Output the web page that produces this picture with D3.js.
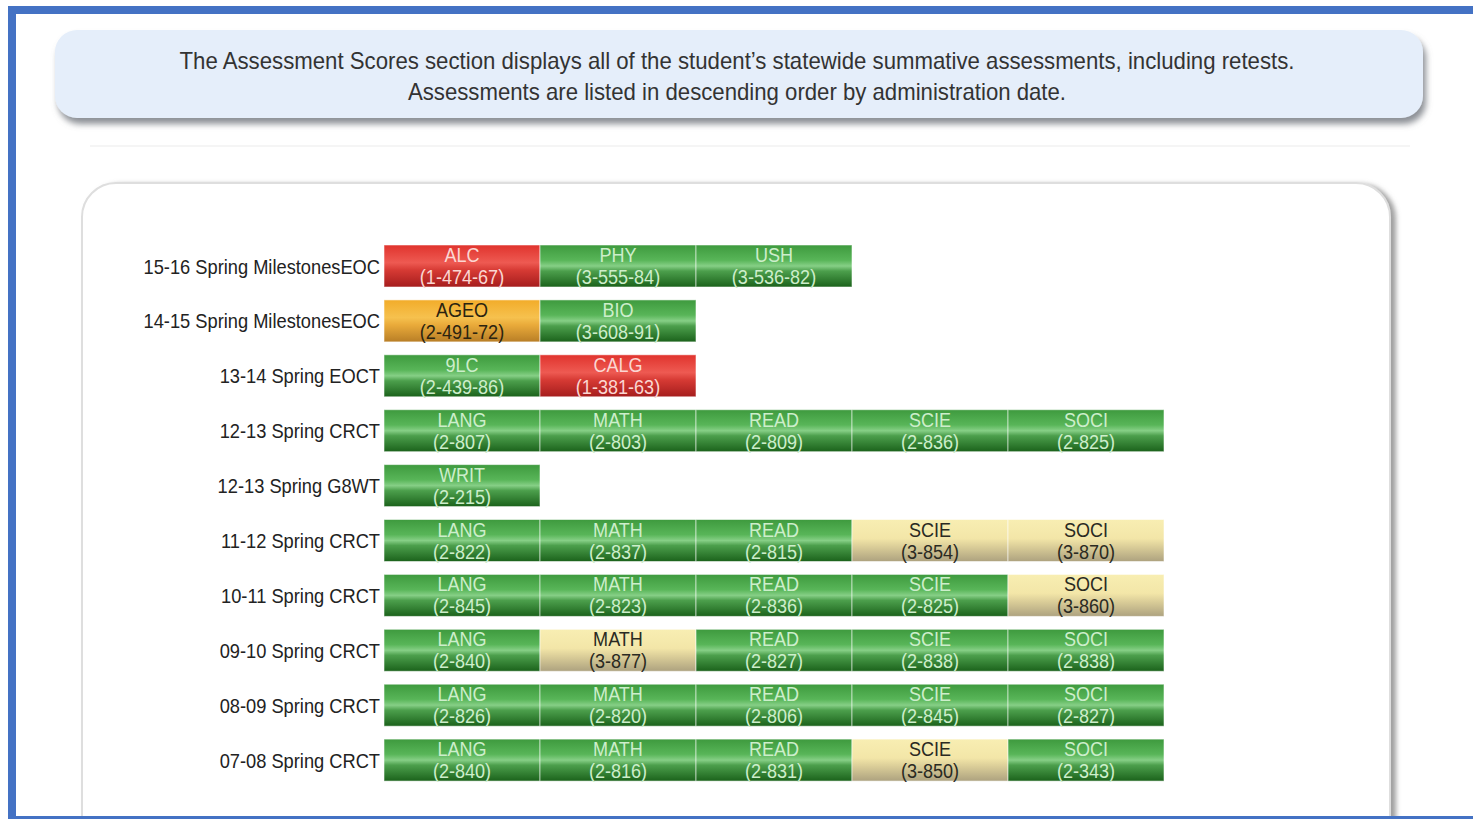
<!DOCTYPE html>
<html><head><meta charset="utf-8">
<script src="https://cdn.jsdelivr.net/npm/d3@7"></script>
<style>
html,body{margin:0;padding:0;background:#fff;overflow:hidden}
svg{display:block}
</style></head>
<body>
<svg id="c" width="1473" height="819"></svg>
<script>
// ---- data ----
const headerLines = [
  "The Assessment Scores section displays all of the student\u2019s statewide summative assessments, including retests.",
  "Assessments are listed in descending order by administration date."
];
const administrations = [
  "15-16 Spring MilestonesEOC",
  "14-15 Spring MilestonesEOC",
  "13-14 Spring EOCT",
  "12-13 Spring CRCT",
  "12-13 Spring G8WT",
  "11-12 Spring CRCT",
  "10-11 Spring CRCT",
  "09-10 Spring CRCT",
  "08-09 Spring CRCT",
  "07-08 Spring CRCT"
];
const subjects = [
  ["ALC","PHY","USH"],
  ["AGEO","BIO"],
  ["9LC","CALG"],
  ["LANG","MATH","READ","SCIE","SOCI"],
  ["WRIT"],
  ["LANG","MATH","READ","SCIE","SOCI"],
  ["LANG","MATH","READ","SCIE","SOCI"],
  ["LANG","MATH","READ","SCIE","SOCI"],
  ["LANG","MATH","READ","SCIE","SOCI"],
  ["LANG","MATH","READ","SCIE","SOCI"]
];
const scores = [
  ["1-474-67","3-555-84","3-536-82"],
  ["2-491-72","3-608-91"],
  ["2-439-86","1-381-63"],
  ["2-807","2-803","2-809","2-836","2-825"],
  ["2-215"],
  ["2-822","2-837","2-815","3-854","3-870"],
  ["2-845","2-823","2-836","2-825","3-860"],
  ["2-840","3-877","2-827","2-838","2-838"],
  ["2-826","2-820","2-806","2-845","2-827"],
  ["2-840","2-816","2-831","3-850","2-343"]
];
// performance band shown by colour: B = below, D = developing, M = meets, E = exceeds
const bands = [
  ["B","M","M"],
  ["D","M"],
  ["M","B"],
  ["M","M","M","M","M"],
  ["M"],
  ["M","M","M","E","E"],
  ["M","M","M","M","E"],
  ["M","E","M","M","M"],
  ["M","M","M","M","M"],
  ["M","M","M","E","M"]
];
const columnSlots = [0,1,2,3,4];

// ---- drawing ----
const svg = d3.select("#c");
const defs = svg.append("defs");
const font = "'Liberation Sans Narrow','Arial Narrow','Liberation Sans',Arial,sans-serif";

const shadow = defs.append("filter").attr("id","sh").attr("x","-5%").attr("y","-20%").attr("width","110%").attr("height","150%");
shadow.append("feDropShadow").attr("dx",3).attr("dy",6).attr("stdDeviation",3).attr("flood-color","#6f747c").attr("flood-opacity",0.8);
const shadow2 = defs.append("filter").attr("id","sh2").attr("x","-5%").attr("y","-5%").attr("width","110%").attr("height","110%");
shadow2.append("feDropShadow").attr("dx",5).attr("dy",2).attr("stdDeviation",2.5).attr("flood-color","#777").attr("flood-opacity",0.7);

const palette = {
  B:{stops:[[0,"#e0332d"],[0.42,"#ee5a52"],[0.6,"#d63a34"],[1,"#a51d1d"]], text:"#fbd6d2"},
  D:{stops:[[0,"#f2ac2a"],[0.42,"#f6c14e"],[0.6,"#e9aa3a"],[1,"#b87e26"]], text:"#2b2410"},
  M:{stops:[[0,"#3e9a3e"],[0.36,"#58b558"],[0.5,"#86cf86"],[0.62,"#4c9f4c"],[1,"#1b621b"]], text:"#cdeecb"},
  E:{stops:[[0,"#f8eeb2"],[0.45,"#f3e6a8"],[0.65,"#dacd98"],[1,"#ada27f"]], text:"#2a2a22"}
};
Object.entries(palette).forEach(([k,v])=>{
  const g = defs.append("linearGradient").attr("id","g"+k).attr("x1",0).attr("y1",0).attr("x2",0).attr("y2",1);
  v.stops.forEach(s=>g.append("stop").attr("offset",s[0]).attr("stop-color",s[1]));
});

// header box
svg.append("rect").attr("x",55).attr("y",30).attr("width",1368).attr("height",88).attr("rx",22)
  .attr("fill","#e5eefa").attr("filter","url(#sh)");
const headerLen = [1115, 658];
svg.append("g").selectAll("text").data(headerLines).join("text")
  .attr("x",737).attr("y",(d,i)=>69+i*31).attr("text-anchor","middle")
  .attr("textLength",(d,i)=>headerLen[i]).attr("lengthAdjust","spacingAndGlyphs")
  .attr("font-family",font).attr("font-size",24).attr("fill","#333").text(d=>d);

svg.append("line").attr("x1",90).attr("x2",1410).attr("y1",146).attr("y2",146).attr("stroke","#f2f2f2").attr("stroke-width",1.5);

// panel
svg.append("rect").attr("x",82).attr("y",183).attr("width",1308).attr("height",700).attr("rx",34)
  .attr("fill","#fff").attr("stroke","#dedede").attr("stroke-width",2).attr("filter","url(#sh2)");

// scales
const y = d3.scaleBand().domain(administrations).range([245,781.1]).paddingInner(0.235).paddingOuter(0);
const x = d3.scaleBand().domain(columnSlots).range([384,1164]).padding(0);

// row labels via axis
const yAxis = d3.axisLeft(y).tickSize(0).tickPadding(0);
const ag = svg.append("g").attr("transform","translate(380,0)").call(yAxis);
ag.select(".domain").remove();
ag.selectAll("text").attr("x",0).attr("font-family",font).attr("font-size",21).attr("fill","#222")
  .attr("dy","0.36em").attr("transform","scale(0.87,1)");

const cells = [];
administrations.forEach((a,r)=>{
  subjects[r].forEach((s,c)=>cells.push({row:a, col:c, subj:s, score:scores[r][c], band:bands[r][c]}));
});

const cg = svg.append("g").selectAll("g").data(cells).join("g")
  .attr("transform",d=>`translate(${x(d.col)},${y(d.row)})`);
cg.append("rect").attr("width",x.bandwidth()).attr("height",y.bandwidth())
  .attr("fill",d=>`url(#g${d.band})`).attr("stroke","#ffffff").attr("stroke-opacity",0.55).attr("stroke-width",1);
const cx = x.bandwidth()/2;
cg.append("text").attr("transform",`translate(${cx},17) scale(0.86,1)`).attr("text-anchor","middle")
  .attr("font-family",font).attr("font-size",21).attr("fill",d=>palette[d.band].text).text(d=>d.subj);
cg.append("text").attr("transform",`translate(${cx},39) scale(0.86,1)`).attr("text-anchor","middle")
  .attr("font-family",font).attr("font-size",21).attr("fill",d=>palette[d.band].text).text(d=>"("+d.score+")");

// page frame (drawn last, on top)
svg.append("rect").attr("x",8).attr("y",6).attr("width",8).attr("height",813).attr("fill","#4472c4");
svg.append("rect").attr("x",8).attr("y",6).attr("width",1465).attr("height",8).attr("fill","#4472c4");
svg.append("rect").attr("x",8).attr("y",816).attr("width",1465).attr("height",3).attr("fill","#4472c4");
</script>
</body></html>
